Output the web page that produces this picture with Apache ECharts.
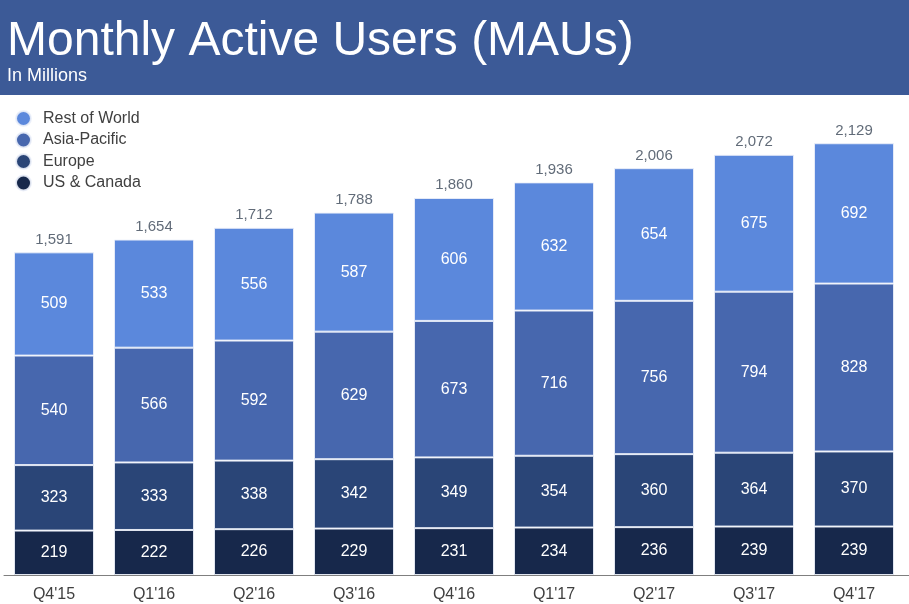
<!DOCTYPE html>
<html>
<head>
<meta charset="utf-8">
<script src="https://cdn.jsdelivr.net/npm/echarts@6/dist/echarts.min.js"></script>
<style>html,body{margin:0;padding:0;background:#fff}#c{width:909px;height:604px}</style>
</head>
<body>
<div id="c"></div>
<script>
const categories = ["Q4'15","Q1'16","Q2'16","Q3'16","Q4'16","Q1'17","Q2'17","Q3'17","Q4'17"];
const usCanada = [219,222,226,229,231,234,236,239,239];
const europe = [323,333,338,342,349,354,360,364,370];
const asiaPacific = [540,566,592,629,673,716,756,794,828];
const restOfWorld = [509,533,556,587,606,632,654,675,692];
const totals = [1591,1654,1712,1788,1860,1936,2006,2072,2129];

const FONT = "'Liberation Sans', Arial, sans-serif";
const chart = echarts.init(document.getElementById('c'), null, {renderer:'canvas'});

function seg(name, data, color){
  return {
    name, type:'bar', stack:'mau', data, barWidth:'80%',
    itemStyle:{color, borderColor:'rgba(235,240,250,0.9)', borderWidth:1},
    label:{show:true, position:'inside', color:'#fff', fontSize:16, fontFamily:FONT},
    emphasis:{disabled:true}
  };
}

chart.setOption({
  animation:false,
  textStyle:{fontFamily:FONT},
  graphic:[
    {type:'rect', left:0, top:0, z:-1, shape:{width:909, height:95}, style:{fill:'#3c5a97'}},
    {type:'line', z:10, shape:{x1:903, y1:575.5, x2:909, y2:575.5}, style:{stroke:'#7f7f7f', lineWidth:1}}
  ],
  title:[
    {text:'Monthly Active Users (MAUs)', left:2, top:13,
     textStyle:{color:'#fff', fontSize:48, fontWeight:'normal', fontFamily:FONT}},
    {text:'In Millions', left:2, top:62,
     textStyle:{color:'#fff', fontSize:18, fontWeight:'normal', fontFamily:FONT}}
  ],
  legend:{
    orient:'vertical', left:10, top:105, itemWidth:15, itemHeight:15, itemGap:4.5,
    icon:'circle', data:['Rest of World','Asia-Pacific','Europe','US & Canada'],
    textStyle:{color:'#404040', fontSize:16, padding:[0,0,0,7], fontFamily:FONT}, selectedMode:false
  },
  grid:{left:4, right:5, top:68, bottom:29},
  xAxis:{
    type:'category', data:categories,
    axisLine:{lineStyle:{color:'#7f7f7f', width:1}}, axisTick:{show:false},
    axisLabel:{color:'#404040', fontSize:16, margin:12, fontFamily:FONT}
  },
  yAxis:{type:'value', min:0, max:2500, show:false, splitLine:{show:false}},
  series:[
    seg('US & Canada', usCanada, '#17284b'),
    seg('Europe', europe, '#2a4577'),
    seg('Asia-Pacific', asiaPacific, '#4767ae'),
    seg('Rest of World', restOfWorld, '#5b88dc'),
    {
      name:'Total', type:'scatter', data:totals, symbolSize:0, silent:true,
      label:{show:true, position:'top', distance:5, color:'#3a4656', fontSize:15, fontFamily:FONT,
        formatter:p=>p.value.toLocaleString('en-US')}
    }
  ]
});
</script>
</body>
</html>
